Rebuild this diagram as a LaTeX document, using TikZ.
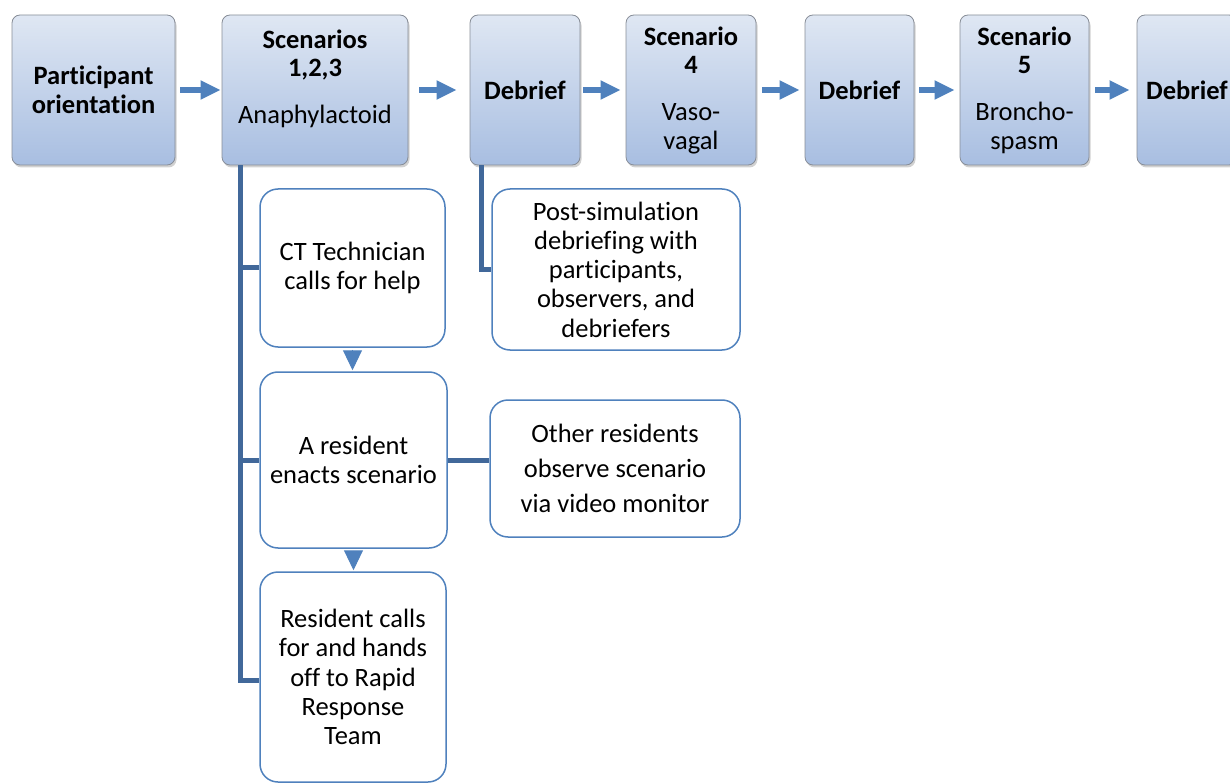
\documentclass[tikz,border=0pt]{standalone}
\usepackage{fontspec}
\setmainfont{Carlito}[Ligatures=CommonOff]
\usetikzlibrary{arrows.meta,shadows}
\definecolor{accent}{HTML}{4F81BD}
\definecolor{treeblue}{HTML}{41689A}
\definecolor{topA}{HTML}{DFE7F3}
\definecolor{topB}{HTML}{A8BEE1}
\definecolor{boxgray}{HTML}{878D97}
\begin{document}
\begin{tikzpicture}[x=1pt,y=-1pt,
  topbox/.style={draw=boxgray, line width=0.8pt, rounded corners=8pt,
    top color=topA, bottom color=topB, minimum height=150pt, inner sep=0pt,
    align=center, font=\fontsize{26.5}{28.5}\selectfont,
    drop shadow={shadow xshift=1.5pt, shadow yshift=-2.5pt, opacity=0.3, fill=black!60}},
  lowbox/.style={draw=accent, line width=1.5pt, rounded corners=18pt, fill=white,
    inner sep=0pt, align=center, font=\fontsize{26.5}{29.3}\selectfont},
  flow/.style={draw=accent, line width=6pt, -{Triangle[length=20pt,width=18pt]}},
  downarr/.style={draw=accent, line width=1pt, -{Triangle[length=20pt,width=19pt]}},
  tree/.style={draw=treeblue, line width=5pt}]
\useasboundingbox (0,0) rectangle (1230,783);
\clip (0,0) rectangle (1230,783);
% top row
\node[topbox, minimum width=163pt] (b1) at (93.5,90) {\textbf{Participant}\\\textbf{orientation}};
\node[topbox, minimum width=186pt] (b2) at (315,90) {\textbf{Scenarios}\\\textbf{1,2,3}\\[18.5pt]Anaphylactoid\rule[-27pt]{0pt}{1pt}};
\node[topbox, minimum width=110pt] (b3) at (525,90) {\textbf{Debrief}};
\node[topbox, minimum width=130pt] (b4) at (691,90) {\textbf{Scenario}\\\textbf{4}\\[18.5pt]Vaso-\\vagal};
\node[topbox, minimum width=109pt] (b5) at (859.5,90) {\textbf{Debrief}};
\node[topbox, minimum width=129pt] (b6) at (1024.5,90) {\textbf{Scenario}\\\textbf{5}\\[18.5pt]Broncho-\\spasm};
\node[topbox, minimum width=100pt] (b7) at (1187,90) {\textbf{Debrief}};
% arrows top row
\draw[flow, shorten <=5pt, shorten >=1pt] (b1.east) -- (b2.west);
\draw[flow, shorten <=11pt, shorten >=13pt] (b2.east) -- (b3.west);
\draw[flow, shorten <=3pt, shorten >=5pt] (b3.east) -- (b4.west);
\draw[flow, shorten <=6pt, shorten >=5pt] (b4.east) -- (b5.west);
\draw[flow, shorten <=5pt, shorten >=5pt] (b5.east) -- (b6.west);
\draw[flow, shorten <=6pt, shorten >=7pt] (b6.east) -- (b7.west);
% lower boxes
\node[lowbox, minimum width=185pt, minimum height=158pt] (ct) at (352.5,268) {CT Technician\\calls for help};
\node[lowbox, minimum width=187pt, minimum height=176pt] (res) at (353.5,460) {A resident\\enacts scenario};
\node[lowbox, minimum width=186pt, minimum height=210pt] (calls) at (353,677) {Resident calls\\for and hands\\off to Rapid\\Response\\Team};
\node[lowbox, minimum width=248pt, minimum height=161pt] (post) at (616,269.5) {Post-simulation\\debriefing with\\participants,\\observers, and\\debriefers};
\node[lowbox, minimum width=250pt, minimum height=137pt, font=\fontsize{26.5}{35}\selectfont] (other) at (615,468.5) {Other residents\\observe scenario\\via video monitor};
% tree connectors
\coordinate (trunk) at ([xshift=19pt]b2.south west);
\coordinate (dtrunk) at ([xshift=12pt]b3.south west);
\draw[tree] (trunk) |- ([yshift=-3pt]calls.west);
\draw[tree] (trunk |- ct.west) -- (ct.west);
\draw[tree] (trunk |- res.west) -- (res.west);
\draw[tree] (dtrunk) |- (post.west);
\draw[tree] (res.east) -- (res.east -| other.west);
% down arrows
\draw[downarr, shorten <=2pt, shorten >=1pt] (ct.south) -- (ct.south |- res.north);
\draw[downarr, shorten <=2pt, shorten >=1pt] (res.south) -- (res.south |- calls.north);
\end{tikzpicture}
\end{document}
